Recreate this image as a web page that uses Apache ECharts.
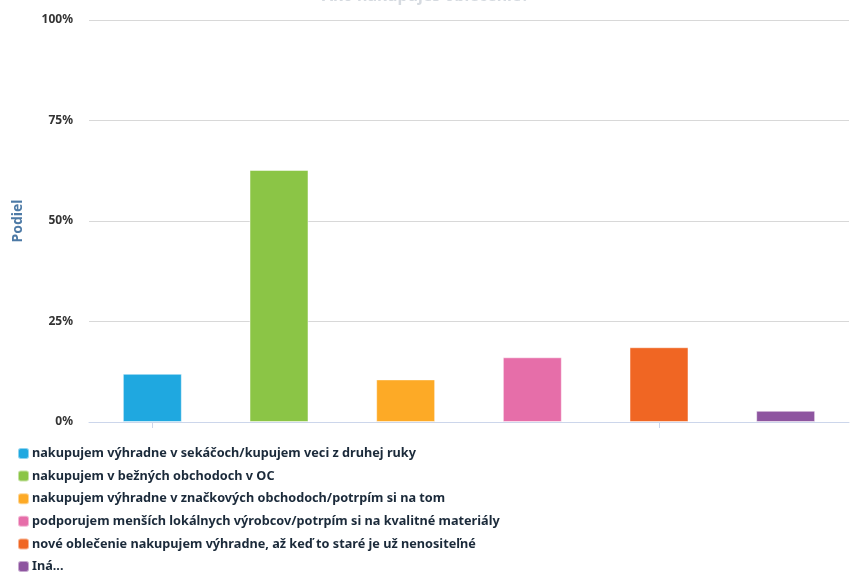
<!DOCTYPE html>
<html>
<head>
<meta charset="utf-8">
<script src="https://cdn.jsdelivr.net/npm/echarts@6/dist/echarts.min.js"></script>
<style>html,body{margin:0;padding:0;background:#fff}#c{width:851px;height:574px}</style>
</head>
<body>
<div id="c"></div>
<script>
var categories = [
  "nakupujem výhradne v sekáčoch/kupujem veci z druhej ruky",
  "nakupujem v bežných obchodoch v OC",
  "nakupujem výhradne v značkových obchodoch/potrpím si na tom",
  "podporujem menších lokálnych výrobcov/potrpím si na kvalitné materiály",
  "nové oblečenie nakupujem výhradne, až keď to staré je už nenositeľné",
  "Iná..."
];
var values = [12, 62.7, 10.6, 16.1, 18.6, 2.8];
var colors = ["#1fa8e0", "#8bc546", "#fdaa26", "#e66ea9", "#f06623", "#8e55a0"];
var yTicks = [0, 25, 50, 75, 100];

var series = categories.map(function (name, i) {
  return {
    name: name,
    type: 'bar',
    stack: 'all',
    barWidth: 59,
    itemStyle: { color: colors[i], borderColor: 'rgba(255,255,255,0.5)', borderWidth: 1 },
    data: categories.map(function (_, j) { return j === i ? values[i] : null; })
  };
});

var chart = echarts.init(document.getElementById('c'), null, { renderer: 'canvas' });
chart.setOption({
  animation: false,
  title: {
    text: 'Ako nakupuješ oblečenie?',
    left: 'center',
    top: -17,
    textStyle: { fontFamily: 'Noto Sans', fontWeight: 'bold', fontSize: 16, color: '#d5dae0' }
  },
  grid: { left: 89, right: 2, top: 20, bottom: 152 },
  legend: {
    orient: 'vertical',
    left: 12,
    top: 442,
    height: 200,
    icon: 'roundRect',
    itemWidth: 11,
    itemHeight: 11,
    itemGap: 9.6,
    textStyle: { fontFamily: 'Noto Sans', fontWeight: 'bold', fontSize: 12.7, color: '#1b2a3a', padding: [0, 0, 0, -2] },
    data: categories
  },
  xAxis: {
    type: 'category',
    data: categories,
    axisLine: { lineStyle: { color: '#ccd6eb', width: 1 } },
    axisTick: { show: true, alignWithLabel: true, length: 6, lineStyle: { color: '#ccd6eb' } },
    axisLabel: { show: false }
  },
  yAxis: {
    type: 'value',
    min: yTicks[0],
    max: yTicks[yTicks.length - 1],
    interval: 25,
    name: 'Podiel',
    nameLocation: 'middle',
    nameGap: 64,
    nameRotate: 90,
    nameTextStyle: { fontFamily: 'Noto Sans', fontWeight: 'bold', fontSize: 14, color: '#4d7aa6' },
    axisLine: { show: false },
    axisTick: { show: false },
    axisLabel: {
      margin: 16,
      fontFamily: 'Noto Sans', fontWeight: 'bold', fontSize: 12, color: '#333',
      formatter: function (v) { return v + '%'; }
    },
    splitLine: { lineStyle: { color: '#d8d8d8', width: 1 } }
  },
  series: series
});
</script>
</body>
</html>
